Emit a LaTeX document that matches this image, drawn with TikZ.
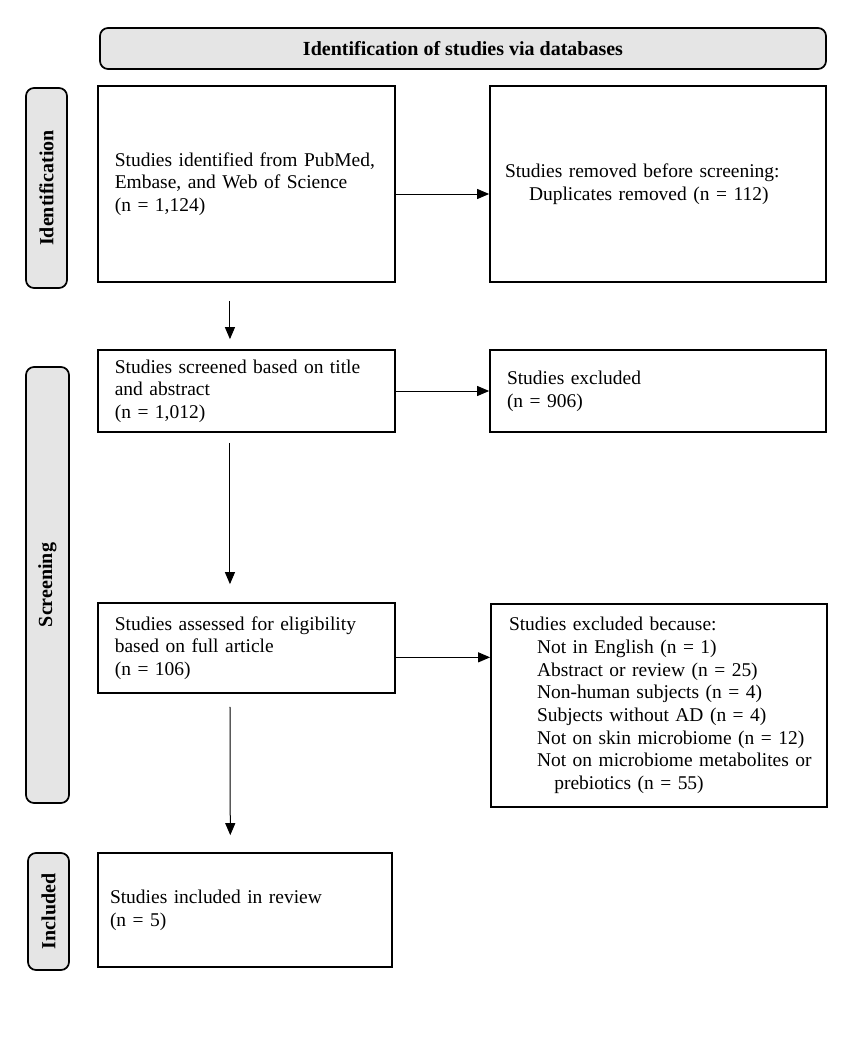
\documentclass[tikz,border=0pt]{standalone}
\usepackage{fontspec}
\setmainfont{Liberation Serif}
\usetikzlibrary{arrows.meta}

\begin{document}
\begin{tikzpicture}[x=0.75pt, y=-0.75pt,
  box/.style={draw, line width=1.3pt, rectangle, inner sep=0pt, align=left, font=\fontsize{14.6}{17}\selectfont},
  phase/.style={draw, line width=1.3pt, rounded corners=6pt, fill=black!10, inner sep=0pt, font=\fontsize{15}{18}\selectfont\bfseries},
  arr/.style={-{Triangle[length=9pt,width=7.5pt]}, line width=0.75pt}]
\useasboundingbox (0,0) rectangle (858,1040);

\node [phase, minimum width=544.5pt, minimum height=30.75pt] (head) at (463, 48.5) {Identification of studies via databases};

\node [phase, minimum width=150pt, minimum height=30.75pt, rotate=90] (idlab) at (46.5, 188) {Identification};
\node [phase, minimum width=327pt, minimum height=32.25pt, rotate=90] (scrlab) at (47.5, 585) {Screening};
\node [phase, minimum width=87.75pt, minimum height=30.75pt, rotate=90] (inclab) at (48.5, 911.5) {Included};

\node [box, minimum width=222.75pt, minimum height=147pt, text width=197.5pt] (ident) at (246.5, 184)
  {Studies identified from PubMed,\\Embase, and Web of Science\\(n = 1,124)};
\node [box, minimum width=252pt, minimum height=147pt, text width=229.5pt] (removed) at (658, 184)
  {Studies removed before screening:\\\hspace*{18pt}Duplicates removed (n = 112)};

\node [box, minimum width=222.75pt, minimum height=61.5pt, text width=197.5pt] (screened) at (246.5, 391)
  {Studies screened based on title\\and abstract\\(n = 1,012)};
\node [box, minimum width=252pt, minimum height=61.5pt, text width=226.5pt] (excl) at (658, 391)
  {Studies excluded\\(n = 906)};

\node [box, minimum width=222.75pt, minimum height=67.5pt, text width=197.5pt] (assessed) at (246.5, 648)
  {Studies assessed for eligibility\\based on full article\\(n = 106)};
\node [box, minimum width=252pt, minimum height=152.25pt, text width=225pt] (reasons) at (659, 705.5)
  {Studies excluded because:\\
   \hspace*{21pt}Not in English (n = 1)\\
   \hspace*{21pt}Abstract or review (n = 25)\\
   \hspace*{21pt}Non-human subjects (n = 4)\\
   \hspace*{21pt}Subjects without AD (n = 4)\\
   \hspace*{21pt}Not on skin microbiome (n = 12)\\
   \hspace*{21pt}\mbox{Not on microbiome metabolites or}\\
   \hspace*{34pt}prebiotics (n = 55)};

\node [box, minimum width=220.5pt, minimum height=85.5pt, text width=202.5pt] (included) at (245, 910)
  {Studies included in review\\(n = 5)};

\draw [arr] ([yshift=-7.5pt]ident.east) -- ([yshift=-7.5pt]removed.west);
\draw [arr] (screened.east) -- (screened.east -| excl.west);
\draw [arr] ([yshift=-7pt]assessed.east) -- ([yshift=-7pt]assessed.east -| reasons.west);

\draw [arr, shorten <=13.5pt, shorten >=7.5pt] ([xshift=-12.4pt]ident.south) -- ([xshift=-12.4pt]screened.north);
\draw [arr, shorten <=7.5pt, shorten >=13.5pt] ([xshift=-12.4pt]screened.south) -- ([xshift=-12.4pt]assessed.north);
\draw [arr, shorten <=9.75pt, shorten >=12.75pt] ([xshift=-12.4pt]assessed.south) -- ([xshift=-11pt]included.north);
\end{tikzpicture}
\end{document}
